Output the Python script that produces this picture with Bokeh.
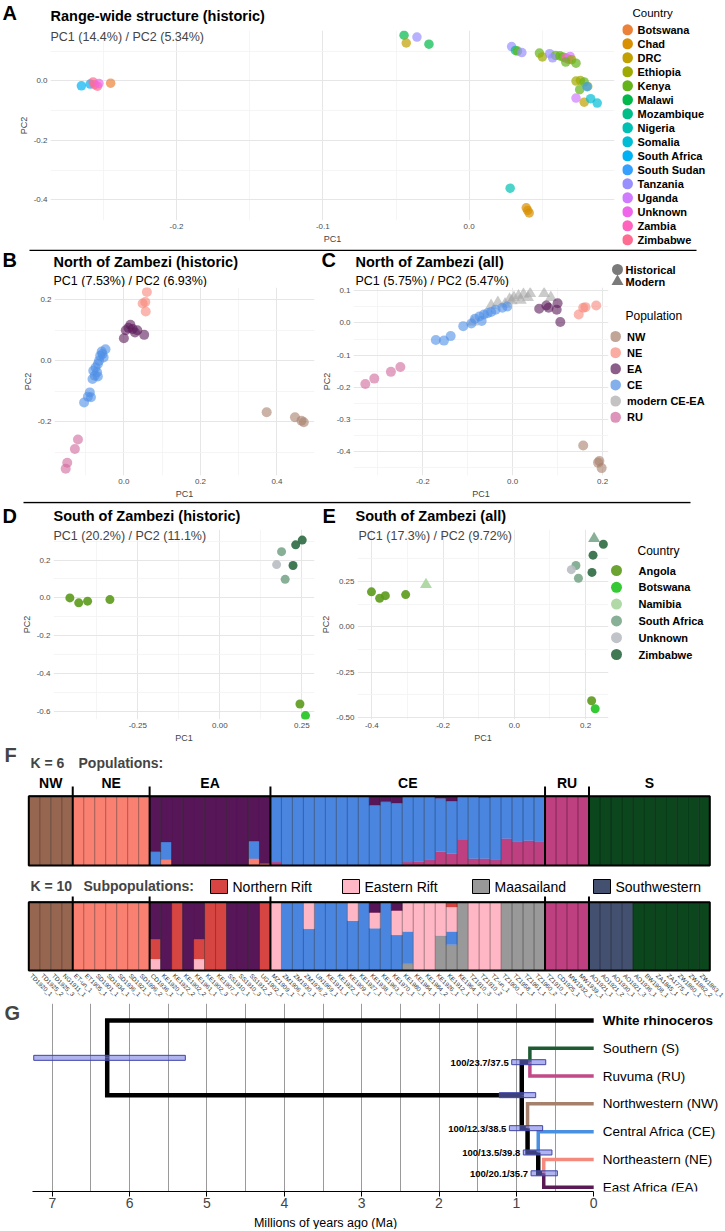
import math
from bokeh.plotting import figure
from bokeh.models import Range1d, FixedTicker, Label, ColumnDataSource
from bokeh.layouts import column, row
from bokeh.transform import factor_cmap
from bokeh.embed import file_html
from bokeh.resources import INLINE
from bokeh.core.properties import value
from bokeh.core.validation import silence
from bokeh.core.validation.warnings import MISSING_RENDERERS

silence(MISSING_RENDERERS, True)
FONT = "Liberation Sans"

# ======================= DATA =======================
# ---- Panel A: range-wide PCA (historic)
a_countries = ["Botswana", "Chad", "DRC", "Ethiopia", "Kenya", "Malawi", "Mozambique", "Nigeria",
               "Somalia", "South Africa", "South Sudan", "Tanzania", "Uganda", "Unknown", "Zambia", "Zimbabwe"]
a_colors = ["#EC8239", "#D89000", "#C2A000", "#9FAA00", "#63B31A", "#00B94A", "#00BE87", "#00C0B4",
            "#00BDD6", "#00B2F3", "#35A0FF", "#9990FF", "#D07BFF", "#F066EA", "#FF63BD", "#FF6B91"]
a_country = ["South Africa", "South Africa", "Zimbabwe", "Zimbabwe", "Zimbabwe", "Unknown", "Botswana",
             "Nigeria", "Chad", "Chad", "Chad",
             "Malawi", "Malawi", "Tanzania", "DRC",
             "Tanzania", "Mozambique", "Kenya", "Tanzania", "Kenya", "Ethiopia", "Tanzania", "Kenya",
             "Tanzania", "Kenya", "Kenya", "Zambia", "Zambia", "Uganda", "Ethiopia", "Kenya", "Kenya",
             "Ethiopia", "Ethiopia", "Kenya", "Kenya", "Ethiopia", "South Sudan", "Uganda", "DRC",
             "Somalia", "Somalia"]
a_pc1 = [-0.265, -0.259, -0.257, -0.256, -0.254, -0.253, -0.245,
         0.028, 0.039, 0.040, 0.041,
         -0.0445, -0.0275, -0.0357, -0.043,
         0.029, 0.0316, 0.033, 0.036, 0.048, 0.050, 0.055, 0.059,
         0.057, 0.062, 0.064, 0.066, 0.068, 0.069, 0.070, 0.066, 0.073,
         0.073, 0.076, 0.0786, 0.0755, 0.081, 0.0805, 0.073, 0.0786,
         0.083, 0.0875]
a_pc2 = [-0.017, -0.011, -0.004, -0.013, -0.018, -0.009, -0.008,
         -0.361, -0.427, -0.436, -0.444,
         0.153, 0.123, 0.147, 0.127,
         0.115, 0.102, 0.100, 0.095, 0.093, 0.080, 0.091, 0.085,
         0.077, 0.084, 0.080, 0.077, 0.072, 0.082, 0.071, 0.063, 0.059,
         -0.001, 0.001, -0.004, -0.030, -0.019, -0.020, -0.058, -0.072,
         -0.060, -0.075]

# ---- Panels B/C: north of Zambezi
bc_pops = ["NW", "NE", "EA", "CE", "modern CE-EA", "RU"]
bc_colors = ["#A67F6B", "#F8877A", "#5B1B5A", "#4F8FE6", "#A9A9A9", "#D0679D"]
b_pop = ["NE"] * 4 + ["EA"] * 8 + ["CE"] * 17 + ["RU"] * 4 + ["NW"] * 4
b_pc1 = [0.060, 0.049, 0.056, 0.057,
         0.017, 0.005, 0.023, 0.035, 0.029, 0.000, 0.053, 0.012,
         -0.048, -0.056, -0.062, -0.053, -0.065, -0.068, -0.074, -0.080, -0.070, -0.076, -0.082, -0.068,
         -0.089, -0.094, -0.104, -0.086, -0.058,
         -0.120, -0.128, -0.148, -0.152,
         0.373, 0.447, 0.464, 0.470]
b_pc2 = [0.226, 0.188, 0.193, 0.162,
         0.118, 0.100, 0.104, 0.100, 0.093, 0.074, 0.085, 0.108,
         0.038, 0.022, 0.016, 0.011, 0.000, -0.011, -0.022, -0.033, -0.038, -0.049, -0.060, -0.052,
         -0.104, -0.118, -0.137, -0.120, 0.030,
         -0.259, -0.290, -0.335, -0.355,
         -0.169, -0.186, -0.197, -0.202]
c_hist_pop = ["NW"] * 4 + ["NE"] * 4 + ["EA"] * 6 + ["CE"] * 14 + ["RU"] * 4
c_hist_pc1 = [0.157, 0.193, 0.190, 0.198,
              0.147, 0.157, 0.162, 0.186,
              0.059, 0.075, 0.080, 0.100, 0.098, 0.106,
              -0.110, -0.092, -0.084, -0.074, -0.064, -0.048, -0.038, -0.023, -0.012, -0.069, -0.171, -0.153,
              -0.138, -0.056,
              -0.328, -0.308, -0.271, -0.250]
c_hist_pc2 = [-0.381, -0.429, -0.434, -0.451,
              0.026, 0.047, 0.049, 0.054,
              0.044, 0.054, 0.047, 0.061, 0.041, 0.003,
              -0.010, -0.002, 0.013, 0.020, 0.026, 0.034, 0.041, 0.047, 0.051, 0.006, -0.053, -0.055,
              -0.041, 0.030,
              -0.190, -0.173, -0.152, -0.137]
c_mod_pc1 = [-0.089, -0.048, -0.033, -0.017, -0.007, -0.002, 0.003, 0.013, 0.018, 0.024, 0.034, 0.039, 0.070, 0.085]
c_mod_pc2 = [0.003, 0.054, 0.064, 0.059, 0.074, 0.069, 0.079, 0.084, 0.070, 0.089, 0.079, 0.091, 0.091, 0.079]

# ---- Panels D/E: south of Zambezi
de_countries = ["Angola", "Botswana", "Namibia", "South Africa", "Unknown", "Zimbabwe"]
de_colors = ["#5C9A1B", "#1FC41F", "#A9D59E", "#7BA78B", "#B9BEC3", "#2C6A43"]
d_country = ["Angola", "Angola", "Angola", "Angola", "Angola", "Botswana",
             "South Africa", "South Africa", "Unknown", "Zimbabwe", "Zimbabwe", "Zimbabwe"]
d_pc1 = [-0.457, -0.430, -0.403, -0.335, 0.244, 0.261, 0.188, 0.199, 0.173, 0.231, 0.251, 0.223]
d_pc2 = [0.000, -0.026, -0.017, -0.009, -0.560, -0.621, 0.244, 0.098, 0.176, 0.280, 0.305, 0.171]
e_hist_country = ["Angola", "Angola", "Angola", "Angola", "Angola", "Botswana",
                  "South Africa", "South Africa", "Unknown", "Zimbabwe", "Zimbabwe", "Zimbabwe"]
e_hist_pc1 = [-0.401, -0.378, -0.362, -0.305, 0.217, 0.227, 0.173, 0.180, 0.160, 0.250, 0.221, 0.218]
e_hist_pc2 = [0.192, 0.157, 0.171, 0.177, -0.407, -0.451, 0.337, 0.267, 0.314, 0.454, 0.394, 0.299]
e_mod_country = ["Namibia", "South Africa"]
e_mod_pc1 = [-0.248, 0.224]
e_mod_pc2 = [0.232, 0.485]

# ---- Panel F: admixture
pop_names = ["NW", "NE", "EA", "CE", "RU", "S"]
pop_sizes = [4, 7, 11, 25, 4, 11]
samples = ["TD1920_1", "TD1925_2", "TD1925_3", "NG1911_1",
           "ET-un_1", "ET1905_1", "SD1901_1", "SD1934_1", "SD1936_1", "SD1921_1", "SD1996_2",
           "CD1936_1", "KE1920_1", "KE1922_2", "KE1902_2", "KE1961_1", "KE1902_3", "KE1907_1", "SS1910_1",
           "SS1910_3", "SS1912_2", "UG1902_1",
           "MZ1909_1", "ZM1906_1", "ZM1930_1", "ZM1936_2", "UN1969_1", "KE1911_1", "KE1922_1", "KE1909_1",
           "KE1927_1", "KE1938_1", "KE1963_1", "KE1970_1", "KE1980_1", "KE1984_1", "KE1984_2", "KE1926_1",
           "KE1912_1", "KE1964_1", "TZ1910_3", "TZ1910_2", "TZ-un_1", "TZ1900_1", "TZ1958_1", "TZ1961_1",
           "TZ1960_2",
           "TZ1910_1", "CD1925_1", "MW1932_1", "MW1939_1",
           "AO1921_1", "AO1921_2", "AO1930_1", "AO1921_3", "AO1936_1", "BW1908_1", "ZA1845_1", "ZA1775_1",
           "ZW1860_1", "ZW1862_2", "ZW1863_1"]
k6_ea_NE = [0.00, 0.09, 0, 0, 0, 0, 0, 0, 0, 0.10, 0.03]
k6_ea_CE = [0.20, 0.25, 0, 0, 0, 0, 0, 0, 0, 0.25, 0.00]
k6_ce_RU = [0.05, 0, 0, 0, 0, 0, 0, 0, 0, 0, 0, 0, 0.05, 0.06, 0.08, 0.20, 0.17, 0.38, 0.10, 0.10, 0.08,
            0.39, 0.34, 0.36, 0.34]
k6_ce_EA = [0, 0, 0, 0, 0, 0, 0, 0, 0, 0.13, 0.08, 0.10, 0, 0, 0, 0.03, 0.07, 0, 0, 0.02, 0, 0, 0, 0, 0]
k10_ea_NR = [0.29, 0, 1, 0, 0.29, 1, 1, 0, 0, 0, 1]
k10_ea_ER = [0.17, 0, 0, 0, 0.17, 0, 0, 0, 0, 0, 0]
k10_ce_ER = [1, 0, 0, 0.39, 0, 0, 0, 0.27, 0, 0.23, 0, 0.36, 0.43, 1, 1, 0.49, 0.36, 0, 1, 1, 1, 0, 0, 0, 0]
k10_ce_MA = [0, 0, 0, 0, 0, 0, 0, 0, 0, 0, 0, 0, 0.10, 0, 0, 0.51, 0.38, 1, 0, 0, 0, 1, 1, 1, 1]
k10_ce_EA = [0, 0, 0, 0, 0, 0, 0, 0, 0, 0.15, 0, 0.12, 0, 0, 0, 0, 0, 0, 0, 0, 0, 0, 0, 0, 0]
k10_ce_NR = [0, 0, 0, 0, 0, 0, 0, 0, 0, 0, 0, 0, 0, 0, 0, 0, 0.07, 0, 0, 0, 0, 0, 0, 0, 0]
k10_s_SW = [1, 1, 1, 1, 0, 0, 0, 0, 0, 0, 0]
k6_order = ["NW", "NE", "RU", "CE", "EA", "S"]
k6_colors = ["#976650", "#FA8072", "#BF4080", "#4A86E0", "#571658", "#0B461D"]
k10_order = ["NW", "NE", "MA", "CE", "ER", "NR", "EA", "RU", "SW", "S"]
k10_colors = ["#976650", "#FA8072", "#999999", "#4A86E0", "#FFB7C5", "#D64541", "#571658", "#BF4080",
              "#435070", "#0B461D"]
sub_labels = ["Northern Rift", "Eastern Rift", "Maasailand", "Southwestern"]
sub_keys = ["NR", "ER", "MA", "SW"]

# ---- Panel G: dated tree
tree_tips = ["White rhinoceros", "Southern (S)", "Ruvuma (RU)", "Northwestern (NW)",
             "Central Africa (CE)", "Northeastern (NE)", "East Africa (EA)"]
tree_tip_colors = ["#000000", "#1E5A32", "#C24A87", "#A5806A", "#4A90E2", "#F48A7D", "#5A1A55"]
tree_nodes = ["root", "black", "S_RU", "NW_clade", "CE_clade", "NE_EA"]
tree_node_age = [6.29, 0.93, 0.825, 0.855, 0.717, 0.646]
tree_ci_old = [7.24, 1.22, 1.06, 1.09, 0.91, 0.81]
tree_ci_young = [5.28, 0.75, 0.62, 0.66, 0.54, 0.47]
tree_support = ["", "", "100/23.7/37.5", "100/12.3/38.5", "100/13.5/39.8", "100/20.1/35.7"]
tree_children = [["White rhinoceros", "black"], ["S_RU", "NW_clade"], ["Southern (S)", "Ruvuma (RU)"],
                 ["Northwestern (NW)", "CE_clade"], ["Central Africa (CE)", "NE_EA"],
                 ["Northeastern (NE)", "East Africa (EA)"]]
g_ticks = [7, 6, 5, 4, 3, 2, 1, 0]
g_grid = [7.0, 6.5, 6.0, 5.5, 5.0, 4.5, 4.0, 3.5, 3.0, 2.5, 2.0, 1.5, 1.0, 0.5]

W = 724


# ======================= HELPERS =======================
def base_fig(w, h, l, r, t, b, xr, yr, xaxis=True, yaxis=True):
    p = figure(width=w, height=h, x_range=xr, y_range=yr,
               min_border_left=l, min_border_right=r, min_border_top=t, min_border_bottom=b,
               output_backend="svg", toolbar_location=None,
               x_axis_location="below" if xaxis else None,
               y_axis_location="left" if yaxis else None)
    if "frame_align" in p.properties():
        p.frame_align = False
    p.outline_line_color = None
    p.background_fill_color = "white"
    p.border_fill_color = "white"
    if not xaxis:
        p.xgrid.visible = False
    if not yaxis:
        p.ygrid.visible = False
    return p


def strip(w, h):
    return base_fig(w, h, 0, 0, 0, 0, Range1d(0, w), Range1d(h, 0), False, False)


def stext(p, x, y, t, size, bold=False, align="left"):
    p.text(x=[x], y=[y], text=[t], text_font=value(FONT), text_font_size=f"{size}px",
           text_font_style="bold" if bold else "normal", text_align=align, text_baseline="middle")


def label(p, text, x, y, size, bold=False, align="left"):
    p.add_layout(Label(x=x, y=y, x_units="screen", y_units="screen", text=text,
                       text_font=FONT, text_font_size=f"{size}px",
                       text_font_style="bold" if bold else "normal",
                       text_align=align, text_baseline="middle"))


def pca_style(p, xt, xl, xm, yt, yl, ym):
    p.xaxis.ticker = FixedTicker(ticks=xt, minor_ticks=xm)
    p.yaxis.ticker = FixedTicker(ticks=yt, minor_ticks=ym)
    p.xaxis.major_label_overrides = {t: s for t, s in zip(xt, xl)}
    p.yaxis.major_label_overrides = {t: s for t, s in zip(yt, yl)}
    p.xaxis.axis_label = "PC1"
    p.yaxis.axis_label = "PC2"
    for ax in (p.xaxis[0], p.yaxis[0]):
        ax.axis_line_color = None
        ax.major_tick_line_color = None
        ax.minor_tick_line_color = None
        ax.major_tick_out = 0
        ax.minor_tick_out = 0
        ax.major_label_text_font = FONT
        ax.major_label_text_font_size = "8px"
        ax.major_label_text_color = "#4D4D4D"
        ax.axis_label_text_font = FONT
        ax.axis_label_text_font_size = "9px"
        ax.axis_label_text_font_style = "normal"
        ax.major_label_standoff = 3
        ax.axis_label_standoff = 2
    for g in (p.xgrid[0], p.ygrid[0]):
        g.grid_line_color = "#E6E6E6"
        g.grid_line_width = 1
        g.minor_grid_line_color = "#F2F2F2"
        g.minor_grid_line_width = 0.8


def legend_points(p, xg, xt, ys, names, colors, alpha, size=11):
    p.scatter(x=[xg] * len(names), y=ys, fill_color=colors, fill_alpha=alpha, line_color=None, size=size)
    p.text(x=[xt] * len(names), y=ys, text=names, text_font=value(FONT), text_font_size="11px",
           text_font_style="bold", text_baseline="middle")


# ======================= ROW A =======================
hdrA = strip(622, 30)
stext(hdrA, 2, 12, "A", 20, bold=True)
stext(hdrA, 50, 15, "Range-wide structure (historic)", 14.5, bold=True)

pA = base_fig(622, 219, 50, 8, 0, 29, Range1d(-0.2861, 0.0993), Range1d(-0.4696, 0.169))
pA.scatter("x", "y", source=ColumnDataSource(dict(x=a_pc1, y=a_pc2, c=a_country)), size=9.5,
           fill_alpha=0.7, line_color=None, fill_color=factor_cmap("c", a_colors, a_countries))
pca_style(pA, [-0.2, -0.1, 0.0, 0.1], ["-0.2", "-0.1", "0.0", "0.1"], [-0.25, -0.15, -0.05, 0.05],
          [0.0, -0.2, -0.4], ["0.0", "-0.2", "-0.4"], [0.1, -0.1, -0.3])
label(pA, "PC1 (14.4%) / PC2 (5.34%)", 0, 184, 12.5)

pAL = strip(W - 622, 249)
stext(pAL, 10, 12, "Country", 11.5)
legend_points(pAL, 5, 15, [29.3 + 14 * i for i in range(len(a_countries))], a_countries, a_colors, 1.0)

rowA = row(column(hdrA, pA), pAL)

# ======================= ROW B / C =======================
hdrBC = strip(W, 38)
hdrBC.line(x=[29, 696], y=[0.8, 0.8], line_color="black", line_width=1.6)
stext(hdrBC, 2, 10.5, "B", 20, bold=True)
stext(hdrBC, 53, 12, "North of Zambezi (historic)", 14.5, bold=True)
stext(hdrBC, 53, 31, "PC1 (7.53%) / PC2 (6.93%)", 12.5)
stext(hdrBC, 321, 10.5, "C", 20, bold=True)
stext(hdrBC, 355, 12, "North of Zambezi (all)", 14.5, bold=True)
stext(hdrBC, 355, 31, "PC1 (5.75%) / PC2 (5.47%)", 12.5)
hdrBC.scatter(x=[617, 617], y=[20, 32], marker=["circle", "triangle"], size=[11, 12],
              fill_color="#7A7A7A", line_color=None)
hdrBC.text(x=[625, 625], y=[20, 32], text=["Historical", "Modern"], text_font=value(FONT),
           text_font_size="11px", text_font_style="bold", text_baseline="middle")

pB = base_fig(318, 214, 54, 4, 0, 26, Range1d(-0.1813, 0.498), Range1d(-0.3771, 0.2406))
pB.scatter("x", "y", source=ColumnDataSource(dict(x=b_pc1, y=b_pc2, c=b_pop)), size=10,
           fill_alpha=0.6, line_color=None, fill_color=factor_cmap("c", bc_colors, bc_pops))
pca_style(pB, [0.0, 0.2, 0.4], ["0.0", "0.2", "0.4"], [-0.1, 0.1, 0.3],
          [0.2, 0.0, -0.2], ["0.2", "0.0", "-0.2"], [0.1, -0.1, -0.3])

pC = base_fig(292, 214, 34, 2, 0, 26, Range1d(-0.3543, 0.2133), Range1d(-0.474, 0.11))
pC.scatter("x", "y", source=ColumnDataSource(dict(x=c_mod_pc1, y=c_mod_pc2,
                                                  c=["modern CE-EA"] * len(c_mod_pc1))),
           marker="triangle", size=12, fill_alpha=0.6, line_color=None,
           fill_color=factor_cmap("c", bc_colors, bc_pops))
pC.scatter("x", "y", source=ColumnDataSource(dict(x=c_hist_pc1, y=c_hist_pc2, c=c_hist_pop)), size=10,
           fill_alpha=0.6, line_color=None, fill_color=factor_cmap("c", bc_colors, bc_pops))
pca_style(pC, [-0.2, 0.0, 0.2], ["-0.2", "0.0", "0.2"], [-0.3, -0.1, 0.1],
          [0.1, 0.0, -0.1, -0.2, -0.3, -0.4], ["0.1", "0.0", "-0.1", "-0.2", "-0.3", "-0.4"],
          [0.05, -0.05, -0.15, -0.25, -0.35, -0.45])

pCL = strip(W - 610, 214)
stext(pCL, 15, 28, "Population", 12)
legend_points(pCL, 5, 16.5, [49 + 16.15 * i for i in range(len(bc_pops))], bc_pops, bc_colors, 0.7)

rowBC = column(hdrBC, row(pB, pC, pCL))

# ======================= ROW D / E =======================
hdrDE = strip(W, 28)
hdrDE.line(x=[23, 690], y=[1.0, 1.0], line_color="black", line_width=1.6)
stext(hdrDE, 2, 14, "D", 20, bold=True)
stext(hdrDE, 53, 14, "South of Zambezi (historic)", 14.5, bold=True)
stext(hdrDE, 322, 14, "E", 20, bold=True)
stext(hdrDE, 355, 14, "South of Zambezi (all)", 14.5, bold=True)

pD = base_fig(318, 216, 53, 4, 0, 23, Range1d(-0.5069, 0.2884), Range1d(-0.6416, 0.361))
pD.scatter("x", "y", source=ColumnDataSource(dict(x=d_pc1, y=d_pc2, c=d_country)), size=9,
           fill_alpha=0.9, line_color=None, fill_color=factor_cmap("c", de_colors, de_countries))
pca_style(pD, [-0.25, 0.0, 0.25], ["-0.25", "0.00", "0.25"], [-0.375, -0.125, 0.125],
          [0.2, 0.0, -0.2, -0.4, -0.6], ["0.2", "0.0", "-0.2", "-0.4", "-0.6"], [0.3, 0.1, -0.1, -0.3, -0.5])
label(pD, "PC1 (20.2%) / PC2 (11.1%)", 0, 184, 12.5)

pE = base_fig(292, 216, 36, 2, 0, 23, Range1d(-0.4402, 0.2644), Range1d(-0.51, 0.535))
pE.scatter("x", "y", source=ColumnDataSource(dict(x=e_mod_pc1, y=e_mod_pc2, c=e_mod_country)),
           marker="triangle", size=12, fill_alpha=0.9, line_color=None,
           fill_color=factor_cmap("c", de_colors, de_countries))
pE.scatter("x", "y", source=ColumnDataSource(dict(x=e_hist_pc1, y=e_hist_pc2, c=e_hist_country)), size=9,
           fill_alpha=0.9, line_color=None, fill_color=factor_cmap("c", de_colors, de_countries))
pca_style(pE, [-0.4, -0.2, 0.0, 0.2], ["-0.4", "-0.2", "0.0", "0.2"], [-0.3, -0.1, 0.1],
          [0.25, 0.0, -0.25, -0.5], ["0.25", "0.00", "-0.25", "-0.50"], [0.375, 0.125, -0.125, -0.375])
label(pE, "PC1 (17.3%) / PC2 (9.72%)", 1, 184, 12.5)

pEL = strip(W - 610, 216)
stext(pEL, 27, 21, "Country", 12)
legend_points(pEL, 6, 28, [41 + 16.8 * i for i in range(len(de_countries))], de_countries, de_colors, 0.9)

rowDE = column(hdrDE, row(pD, pE, pEL))

# ======================= PANEL F =======================
ns = len(samples)
k6 = {k: [0.0] * ns for k in k6_order}
k10 = {k: [0.0] * ns for k in k10_order}
starts = [sum(pop_sizes[:i]) for i in range(len(pop_sizes))]
for pname, st, sz in zip(pop_names, starts, pop_sizes):
    for j in range(sz):
        i = st + j
        if pname == "EA":
            k6["NE"][i] = k6_ea_NE[j]
            k6["CE"][i] = k6_ea_CE[j]
            k6["EA"][i] = 1 - k6_ea_NE[j] - k6_ea_CE[j]
            k10["NR"][i] = k10_ea_NR[j]
            k10["ER"][i] = k10_ea_ER[j]
            k10["EA"][i] = 1 - k10_ea_NR[j] - k10_ea_ER[j]
        elif pname == "CE":
            k6["RU"][i] = k6_ce_RU[j]
            k6["EA"][i] = k6_ce_EA[j]
            k6["CE"][i] = 1 - k6_ce_RU[j] - k6_ce_EA[j]
            k10["ER"][i] = k10_ce_ER[j]
            k10["MA"][i] = k10_ce_MA[j]
            k10["EA"][i] = k10_ce_EA[j]
            k10["NR"][i] = k10_ce_NR[j]
            k10["CE"][i] = max(0.0, 1 - k10_ce_ER[j] - k10_ce_MA[j] - k10_ce_EA[j] - k10_ce_NR[j])
        elif pname == "S":
            k6["S"][i] = 1.0
            k10["SW"][i] = k10_s_SW[j]
            k10["S"][i] = 1 - k10_s_SW[j]
        else:
            k6[pname][i] = 1.0
            k10[pname][i] = 1.0

xs_idx = list(range(ns))
bounds = [s - 0.5 for s in starts[1:]]
seps = [i + 0.5 for i in range(ns - 1)]
centers = [s - 0.5 + sz / 2 for s, sz in zip(starts, pop_sizes)]
px_per = (709.3 - 28.3) / ns
fx0 = -0.5 - 28.3 / px_per
fx1 = ns - 0.5 + (W - 709.3) / px_per


def admix(p, order, colors, mat, tick_top):
    src = ColumnDataSource(dict(x=xs_idx, **{k: mat[k] for k in order}))
    p.vbar_stack(order, x="x", width=1.0, source=src, fill_color=colors, line_color=colors, line_width=0.3)
    p.segment(x0=seps, y0=0, x1=seps, y1=1, line_color="black", line_alpha=0.45, line_width=0.8)
    p.segment(x0=bounds, y0=0, x1=bounds, y1=tick_top, line_color="black", line_width=2)
    p.quad(left=[-0.5], right=[ns - 0.5], bottom=[0], top=[1], fill_color=None, line_color="black",
           line_width=2)


# K = 6 strip: page y 745..868, bar 0 at 865, 1 at 795.7
pF6 = base_fig(W, 123, 0, 0, 0, 0, Range1d(fx0, fx1), Range1d(-3 / 69.3, 120 / 69.3), False, False)
admix(pF6, k6_order, k6_colors, k6, 1.14)
pF6.text(x=centers, y=[1.19] * len(centers), text=pop_names, text_font=value(FONT), text_font_size="14px",
         text_font_style="bold", text_align="center", text_baseline="middle")
label(pF6, "F", 4, 114, 20, bold=True)
label(pF6, "K = 6", 30, 106, 14, bold=True)
label(pF6, "Populations:", 78, 106, 14, bold=True)

# K = 10 strip: page y 868..1003, bar 0 at 970, 1 at 901.7
F10_PX = 68.3
pF10 = base_fig(W, 135, 0, 0, 0, 0, Range1d(fx0, fx1), Range1d(-33 / F10_PX, 102 / F10_PX), False, False)
admix(pF10, k10_order, k10_colors, k10, 1.085)
pF10.text(x=xs_idx, y=[-0.06] * ns, text=samples, angle=-math.pi / 4, x_offset=-3, text_align="left",
          text_baseline="middle", text_font=value(FONT), text_font_size="6.2px", text_color="#333333")
label(pF10, "K = 10", 30, 118, 14, bold=True)
label(pF10, "Subpopulations:", 83, 118, 14, bold=True)
sw_left = [210, 342, 472, 593]
sw_cols = [k10_colors[k10_order.index(k)] for k in sub_keys]
pF10.quad(left=[fx0 + x / px_per for x in sw_left], right=[fx0 + (x + 17) / px_per for x in sw_left],
          top=[(970 - 879) / F10_PX] * 4, bottom=[(970 - 893) / F10_PX] * 4,
          fill_color=sw_cols, line_color="black", line_width=1)
pF10.text(x=[fx0 + (x + 22) / px_per for x in sw_left], y=[(970 - 886) / F10_PX] * 4, text=sub_labels,
          text_font=value(FONT), text_font_size="14px", text_baseline="middle")

# ======================= PANEL G =======================
age = {nm: a for nm, a in zip(tree_nodes, tree_node_age)}
for t in tree_tips:
    age[t] = 0.0
ypos = {t: float(i) for i, t in enumerate(tree_tips)}


def gety(nm):
    if nm not in ypos:
        ch = tree_children[tree_nodes.index(nm)]
        ypos[nm] = sum(gety(c) for c in ch) / len(ch)
    return ypos[nm]


for nm in tree_nodes:
    gety(nm)

br_xs, br_ys, br_col, br_w = [], [], [], []
for nm, ch in zip(tree_nodes, tree_children):
    for c in ch:
        br_xs.append([age[nm], age[nm], age[c]])
        br_ys.append([ypos[nm], ypos[c], ypos[c]])
        if c in tree_tips and c != "White rhinoceros":
            br_col.append(tree_tip_colors[tree_tips.index(c)])
            br_w.append(3.5)
        else:
            br_col.append("black")
            br_w.append(4.5)

ma_px = (593.2 - 51.8) / 7.0
tip_px = (1186.7 - 1020.0) / 6.0
pG = base_fig(W, 209, 0, 0, 0, 21, Range1d(7 + 51.8 / ma_px, -(W - 593.2) / ma_px),
              Range1d((1191 - 1020) / tip_px, -(1020 - 1003) / tip_px), True, False)
pG.xaxis.ticker = FixedTicker(ticks=g_ticks)
pG.xgrid.ticker = FixedTicker(ticks=g_grid)
pG.xgrid.grid_line_color = "#9A9A9A"
pG.xgrid.grid_line_width = 1
pG.xaxis.bounds = (0, 7.25)
pG.xaxis.axis_line_color = "black"
pG.xaxis.axis_line_width = 1
pG.xaxis.major_tick_out = 5
pG.xaxis.major_tick_in = 0
pG.xaxis.minor_tick_line_color = None
pG.xaxis.major_label_text_font = FONT
pG.xaxis.major_label_text_font_size = "14px"
pG.xaxis.major_label_standoff = 1
pG.multi_line("xs", "ys", source=ColumnDataSource(dict(xs=br_xs, ys=br_ys, c=br_col, w=br_w)),
              line_color="c", line_width="w", line_join="miter")
node_y = [ypos[nm] for nm in tree_nodes]
pG.hbar(y=node_y, left=tree_ci_young, right=tree_ci_old, height=0.18, fill_color="#6F76E0",
        fill_alpha=0.55, line_color="#3F44A8", line_width=1)
sup_idx = [i for i, s in enumerate(tree_support) if s]
pG.text(x=[tree_ci_old[i] for i in sup_idx], y=[node_y[i] for i in sup_idx],
        text=[tree_support[i] for i in sup_idx], x_offset=-3, text_align="right", text_baseline="middle",
        text_font=value(FONT), text_font_size="9.5px", text_font_style="bold")
pG.text(x=[0.0], y=[ypos[tree_tips[0]]], text=[tree_tips[0]], x_offset=9, text_baseline="middle",
        text_font=value(FONT), text_font_size="13.5px", text_font_style="bold")
pG.text(x=[0.0] * (len(tree_tips) - 1), y=[ypos[t] for t in tree_tips[1:]], text=tree_tips[1:], x_offset=9,
        text_baseline="middle", text_font=value(FONT), text_font_size="13.5px")
label(pG, "G", 4, 1191 - 1012, 20, bold=True)

footG = strip(W, 17)
stext(footG, 325, 10, "Millions of years ago (Ma)", 12.5, align="center")

# ======================= LAYOUT =======================
layout = column(rowA, rowBC, rowDE, pF6, pF10, pG, footG)
open("out.html", "w").write(file_html(layout, INLINE))
